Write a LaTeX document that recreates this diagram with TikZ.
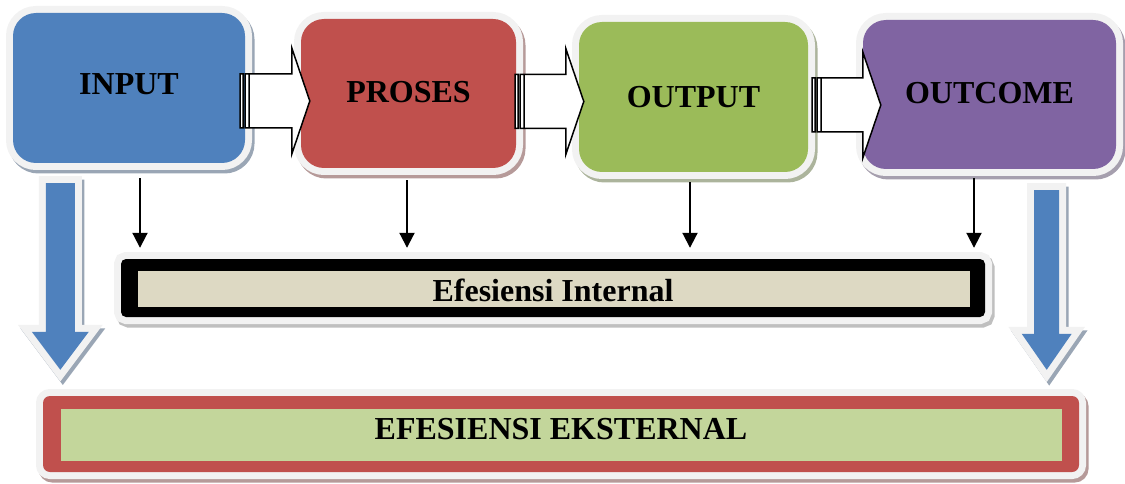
\documentclass[tikz,border=0pt]{standalone}
\usepackage{fontspec}
\setmainfont{Liberation Serif}
\usetikzlibrary{calc,arrows.meta}

\definecolor{inputblue}{HTML}{4F81BD}
\definecolor{prosesred}{HTML}{C0504D}
\definecolor{outputgreen}{HTML}{9BBB59}
\definecolor{outcomepurple}{HTML}{8064A2}
\definecolor{framewhite}{HTML}{F2F2F2}
\definecolor{internalbeige}{HTML}{DDD9C3}
\definecolor{externalgreen}{HTML}{C3D69B}

\newcommand\stagefont{\fontsize{32}{38}\selectfont\bfseries}

% striped block arrow from tail (#1) to tip (#2), same height as tail
\newcommand\stripedarrow[2]{%
	\draw[blockarrow] let \p1=#1, \p2=#2 in
		(\x1,\y1+27pt) rectangle (\x1+3pt,\y1-27pt)
		(\x1+5pt,\y1+27pt) rectangle (\x1+9pt,\y1-27pt)
		(\x1+9pt,\y1+27pt) -- (\x2-18pt,\y1+27pt) -- (\x2-18pt,\y1+53pt)
		-- (\x2,\y1) -- (\x2-18pt,\y1-53pt) -- (\x2-18pt,\y1-27pt)
		-- (\x1+9pt,\y1-27pt) -- cycle;}

% big down arrow: top (#1), tip height (#2), shaft half (#3), head half (#4), head length (#5)
\newcommand\bigdownarrow[5]{%
	\path[bigarrow] let \p1=#1, \p2=#2 in
		(\x1-#3,\y1) -- (\x1+#3,\y1) -- (\x1+#3,\y2+#5) -- (\x1+#4,\y2+#5)
		-- (\x1,\y2) -- (\x1-#4,\y2+#5) -- (\x1-#3,\y2+#5) -- cycle;}

\tikzset{
	boxshadow/.style={preaction={draw=#1, fill=#1, line width=14pt,
		transform canvas={shift={(2.5pt,-3.5pt)}}}},
	whiteframe/.style={preaction={draw=framewhite, line width=14pt}},
	stagebox/.style={rectangle, rounded corners=23pt, inner sep=0pt, fill=#1,
		boxshadow={#1!35!gray!70!white}, whiteframe, font=\stagefont},
	internalbox/.style={rectangle, rounded corners=5pt, inner sep=0pt, fill=black,
		boxshadow=gray!50, whiteframe, font=\stagefont,
		path picture={\fill[internalbeige, sharp corners]
			([shift={(17pt,-12pt)}]path picture bounding box.north west) rectangle
			([shift={(-15pt,10pt)}]path picture bounding box.south east);}},
	externalbox/.style={rectangle, rounded corners=7pt, inner sep=0pt, fill=prosesred,
		boxshadow={prosesred!35!gray!70!white}, whiteframe, font=\stagefont,
		path picture={\fill[externalgreen, sharp corners]
			([shift={(18pt,-13pt)}]path picture bounding box.north west) rectangle
			([shift={(-17pt,11pt)}]path picture bounding box.south east);}},
	blockarrow/.style={draw=black, fill=white, line width=1.5pt},
	bigarrow/.style={fill=inputblue, boxshadow={inputblue!35!gray!70!white}, whiteframe},
	thinarrow/.style={line width=2pt, -{Triangle[width=15pt,length=15pt]}},
}

\begin{document}
\begin{tikzpicture}[x=1pt,y=-1pt]

	\useasboundingbox (0,0) rectangle (1125,484);

% stages %{{{2

	\node[stagebox=inputblue, minimum width=232pt, minimum height=150pt,
		text depth=7pt] (input) at (129,88) {INPUT};
	\node[stagebox=prosesred, minimum width=215pt, minimum height=149pt,
		text depth=3pt] (proses) at (408.5,93.5) {PROSES};
	\node[stagebox=outputgreen, minimum width=229pt, minimum height=150pt]
		(output) at (693.5,97) {OUTPUT};
	\node[stagebox=outcomepurple, minimum width=253pt, minimum height=149pt,
		text depth=4pt] (outcome) at (989.5,94.5) {OUTCOME};

% striped arrows between stages %{{{2

	\stripedarrow{([shift={(-5,13)}]input.east)}{([xshift=9pt]proses.west)}
	\stripedarrow{([shift={(-1,8)}]proses.east)}{([xshift=5pt]output.west)}
	\stripedarrow{([shift={(4,8)}]output.east)}{([xshift=18pt]outcome.west)}

% efficiency boxes %{{{2

	\node[internalbox, minimum width=864pt, minimum height=58pt,
		text height=28pt] (internal) at (553,288) {Efesiensi Internal};
	\node[externalbox, minimum width=1036pt, minimum height=76pt,
		text depth=10pt] (external) at (561,434) {EFESIENSI EKSTERNAL};

% thin arrows to internal %{{{2

	\foreach \stage/\dx/\dy in {input/11/15, proses/-1.5/12, output/-3.5/10, outcome/-15.5/9} {
		\coordinate (top) at ([shift={(\dx,\dy)}]\stage.south);
		\draw[thinarrow] (top) -- ([yshift=11pt]top |- internal.north);
	}

% big arrows to external %{{{2

	\bigdownarrow{([shift={(47.5,20)}]input.south west)}{([yshift=26pt]external.north)}
		{14.5pt}{28.5pt}{38pt}
	\bigdownarrow{([shift={(-69.5,21)}]outcome.south east)}{([yshift=26pt]external.north)}
		{12.5pt}{25pt}{36pt}

\end{tikzpicture}
\end{document}
